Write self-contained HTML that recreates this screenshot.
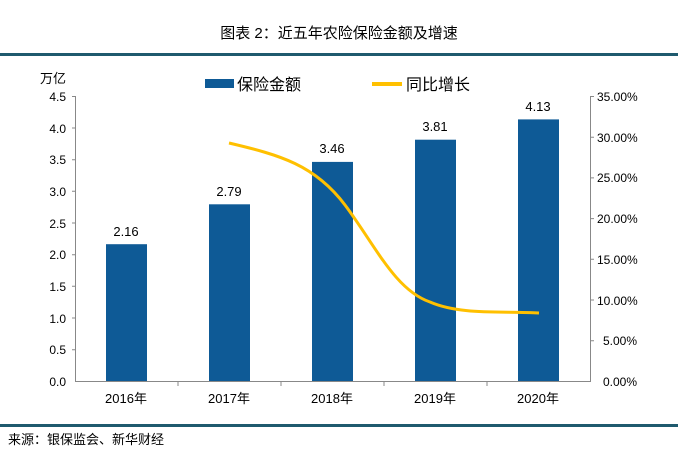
<!DOCTYPE html>
<html><head><meta charset="utf-8"><style>
body{margin:0;background:#fff;}
svg{display:block;font-family:"Liberation Sans","Noto Sans CJK SC",sans-serif;}
</style></head><body>
<svg width="678" height="452" viewBox="0 0 678 452">
<rect width="678" height="452" fill="#fff"/>
<text x="339" y="38" text-anchor="middle" font-size="15" fill="#000">图表 2：近五年农险保险金额及增速</text>
<rect x="0" y="53" width="678" height="3" fill="#1f5a6e"/>
<rect x="0" y="424" width="678" height="3" fill="#1f5a6e"/>
<text x="8" y="444" font-size="13" fill="#000">来源：银保监会、新华财经</text>
<text x="40" y="83" font-size="13" fill="#000">万亿</text>
<rect x="205" y="79" width="29" height="9" fill="#0e5a96"/>
<text x="237" y="90" font-size="16" fill="#000">保险金额</text>
<rect x="372" y="82" width="30" height="4" fill="#ffc000"/>
<text x="406" y="90" font-size="16" fill="#000">同比增长</text>
<g stroke="#888" stroke-width="1" fill="none">
<path d="M75.5 96V381.5H590.5V96"/>
<path d="M72 96.5H76M72 128H76M72 159.7H76M72 191.3H76M72 223H76M72 254.7H76M72 286.3H76M72 318H76M72 349.7H76"/>
<path d="M590 96.5H594M590 137.2H594M590 177.9H594M590 218.6H594M590 259.3H594M590 300H594M590 340.7H594"/>
<path d="M178 381V386M281 381V386M384 381V386M487 381V386"/>
</g>
<g font-size="12" fill="#000" text-anchor="end">
<text x="66" y="101">4.5</text><text x="66" y="133">4.0</text><text x="66" y="164">3.5</text>
<text x="66" y="196">3.0</text><text x="66" y="228">2.5</text><text x="66" y="259">2.0</text>
<text x="66" y="291">1.5</text><text x="66" y="323">1.0</text><text x="66" y="354">0.5</text><text x="66" y="386">0.0</text>
</g>
<g font-size="12" fill="#000">
<text x="597" y="101">35.00%</text><text x="597" y="142">30.00%</text><text x="597" y="182">25.00%</text>
<text x="597" y="223">20.00%</text><text x="597" y="264">15.00%</text><text x="597" y="305">10.00%</text>
<text x="603" y="345">5.00%</text><text x="603" y="386">0.00%</text>
</g>
<g fill="#0e5a96">
<rect x="106" y="244.2" width="41" height="136.8"/>
<rect x="209" y="204.3" width="41" height="176.7"/>
<rect x="312" y="161.9" width="41" height="219.1"/>
<rect x="415" y="139.7" width="41" height="241.3"/>
<rect x="518" y="119.4" width="41" height="261.6"/>
</g>
<g font-size="13" fill="#000" text-anchor="middle">
<text x="126" y="236">2.16</text><text x="229" y="196">2.79</text><text x="332" y="153">3.46</text>
<text x="435" y="131">3.81</text><text x="538" y="111">4.13</text>
</g>
<path d="M229 143 C280 155,315 165,345 205 C375 245,395 290,430 302 C460 315,500 311,539 313" stroke="#ffc000" stroke-width="3" fill="none"/>
<g font-size="13" fill="#000" text-anchor="middle">
<text x="126" y="403">2016年</text><text x="229" y="403">2017年</text><text x="332" y="403">2018年</text>
<text x="435" y="403">2019年</text><text x="538" y="403">2020年</text>
</g>
</svg>
</body></html>
